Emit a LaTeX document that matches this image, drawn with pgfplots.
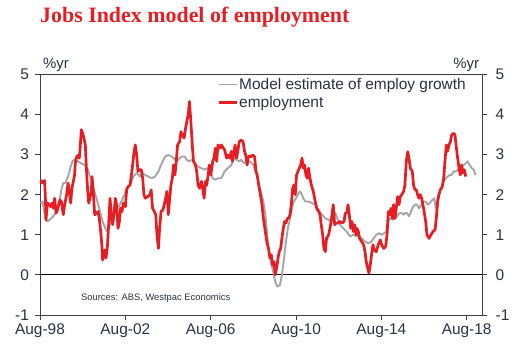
\documentclass[border=0pt]{standalone}
\usepackage{pgfplots}
\pgfplotsset{compat=1.18}
\usepackage{pgfplotstable}
\usepackage{fontspec}
\setmainfont{Liberation Sans}
\newfontfamily\titlefont{Liberation Serif}
\definecolor{wred}{RGB}{230,30,35}
\definecolor{wgrey}{RGB}{165,165,165}
\definecolor{txt}{RGB}{40,50,65}
\definecolor{axc}{RGB}{64,64,64}

\pgfplotstableread{
m v
0.4 2.37
1.1 2.29
1.9 2.33
2.6 2.35
3.0 2.00
3.4 1.37
4.2 1.79
5.3 1.75
6.0 1.70
6.8 1.79
7.6 1.66
8.3 1.91
9.1 1.54
9.8 1.62
10.6 1.75
11.3 1.87
12.1 1.83
13.2 1.50
14.0 1.75
15.1 2.00
15.9 2.29
16.6 2.08
17.4 1.79
18.1 2.16
18.9 2.33
19.6 2.49
20.0 2.78
20.8 2.95
21.5 2.98
22.3 2.91
23.0 3.32
23.4 3.62
24.2 3.53
24.9 3.41
25.7 3.24
26.1 2.83
26.8 2.24
27.6 1.79
28.3 1.91
29.1 2.08
29.5 2.45
30.2 2.08
31.0 1.50
32.1 1.54
32.9 1.58
33.6 1.41
34.4 1.08
35.1 0.71
35.5 0.37
36.6 0.62
37.4 0.42
38.2 0.71
38.9 1.25
39.7 1.91
40.4 1.50
41.2 1.25
41.9 1.50
42.7 1.91
43.4 1.75
44.2 1.16
45.0 1.33
45.7 1.66
46.5 1.58
47.2 1.79
48.4 1.70
49.1 2.12
49.9 2.20
51.0 2.24
51.8 2.49
52.5 2.74
53.3 3.07
54.0 3.24
54.8 2.99
55.5 2.58
56.3 2.62
57.4 2.62
58.2 2.41
58.9 2.00
59.7 1.91
61.0 1.95
62.3 2.00
63.0 2.12
63.8 1.66
64.8 1.58
65.6 1.50
66.3 1.00
67.1 0.66
67.8 1.16
68.6 1.58
69.7 1.62
70.4 1.75
71.2 1.91
71.9 2.08
72.7 1.50
73.4 1.83
74.2 2.24
75.0 2.41
75.7 2.74
76.5 2.49
77.2 2.83
78.0 3.24
79.1 3.32
79.9 3.57
80.6 3.49
81.7 3.41
82.5 3.66
83.2 3.82
84.0 3.99
84.7 4.32
85.5 3.82
86.3 3.24
87.0 2.83
88.1 2.74
88.8 2.58
89.6 2.24
90.4 2.16
91.5 2.33
92.2 2.16
93.0 1.91
93.8 2.33
94.5 2.24
95.3 2.49
96.0 2.74
96.8 2.49
97.9 2.83
98.6 2.91
99.4 3.16
100.1 2.83
100.9 3.24
102.0 3.16
102.8 3.24
103.9 3.16
104.6 3.12
105.8 2.91
106.5 2.99
107.6 2.91
108.4 3.08
109.1 2.83
109.9 3.08
110.6 3.24
111.4 2.91
112.1 3.08
112.9 3.32
114.0 3.36
115.1 3.32
115.9 3.08
116.6 2.99
117.4 2.74
118.1 2.95
119.7 2.95
120.5 2.99
121.6 2.95
122.4 2.58
123.1 2.49
123.9 2.24
124.6 2.08
125.8 1.75
126.6 1.41
127.7 1.08
128.5 0.83
129.5 0.66
130.3 0.42
131.1 0.50
131.8 0.25
132.6 0.33
133.3 0.00
134.1 0.17
134.9 0.42
135.6 0.58
136.4 0.66
137.1 0.91
137.9 1.16
138.6 1.33
139.4 1.29
140.2 1.41
140.9 1.41
141.7 1.50
142.4 1.75
143.2 2.16
143.9 2.24
144.7 2.00
145.4 2.49
146.2 2.58
147.0 2.66
147.7 2.74
148.5 2.91
149.2 2.66
150.0 2.74
150.7 2.49
151.5 2.41
152.2 2.66
153.0 2.41
153.8 2.24
154.9 2.08
156.0 1.83
156.8 1.66
157.9 1.58
158.7 1.50
159.4 1.25
160.2 1.00
160.9 0.66
161.7 0.58
162.4 0.91
163.6 1.00
164.7 1.25
165.5 1.50
166.2 1.75
167.0 1.25
167.8 1.29
168.9 1.29
170.0 1.33
171.2 1.29
172.3 1.33
173.0 1.54
173.8 1.54
174.6 1.75
175.3 1.50
176.1 1.16
176.8 1.33
177.6 1.08
178.3 1.25
179.1 1.00
179.6 1.16
180.4 1.08
181.1 0.91
182.3 0.83
183.4 0.75
184.2 0.58
184.9 0.33
185.7 0.17
186.4 0.04
187.2 0.25
187.9 0.50
188.7 0.75
189.4 0.62
190.6 0.58
191.7 0.75
192.9 0.87
193.6 0.75
194.8 0.66
195.9 0.71
196.7 1.00
197.4 1.58
198.2 1.50
198.9 1.66
199.7 1.41
200.4 1.75
201.2 1.41
201.9 1.66
202.7 1.95
203.5 1.75
204.2 1.95
205.0 2.00
206.1 2.08
206.8 2.24
207.6 2.83
208.4 3.07
209.1 2.91
209.9 2.66
211.0 2.58
211.7 2.24
212.5 2.12
213.3 2.12
214.0 2.00
214.8 1.91
215.5 2.00
216.3 1.91
217.4 1.66
218.6 1.33
219.3 1.00
220.5 0.91
221.6 1.00
222.7 1.08
223.9 1.12
224.6 1.41
225.4 1.83
226.1 2.00
226.9 2.12
228.0 2.20
228.8 2.41
229.5 2.83
230.3 3.24
231.0 3.08
231.8 3.24
232.6 3.32
233.3 3.49
234.4 3.53
235.2 3.49
236.0 3.16
236.7 2.91
237.5 2.66
238.2 2.49
239.0 2.74
239.7 2.54
240.5 2.62
241.3 2.45
}\redtab

\pgfplotstableread{
m v
0.4 1.79
1.5 1.83
3.0 1.41
4.2 1.33
6.4 1.41
8.3 1.50
9.8 1.58
11.0 1.83
12.1 2.12
13.2 2.29
14.4 2.29
15.1 2.37
16.2 2.49
17.4 2.70
18.5 2.84
19.6 2.87
21.5 2.83
23.4 2.78
25.3 2.74
27.2 2.62
28.7 2.41
30.2 2.16
31.4 2.00
32.5 1.83
34.0 1.58
35.5 1.33
37.0 1.16
38.2 1.08
39.3 1.21
40.4 1.37
42.3 1.54
44.2 1.66
46.1 1.83
48.0 2.00
49.1 2.16
51.0 2.24
52.9 2.45
54.8 2.54
56.7 2.45
57.8 2.54
59.7 2.49
61.4 2.45
63.3 2.41
65.2 2.45
67.1 2.58
69.0 2.78
70.9 2.95
72.7 2.99
74.6 2.95
76.5 2.87
77.6 2.83
79.1 2.91
80.6 2.95
82.1 2.95
83.2 2.87
84.4 2.83
86.3 2.87
87.8 2.78
89.6 2.70
91.5 2.66
93.4 2.62
94.5 2.66
96.4 2.58
97.9 2.41
99.4 2.37
100.9 2.41
102.8 2.41
104.6 2.58
106.5 2.66
108.4 2.74
109.9 2.91
111.4 2.87
112.9 2.83
114.0 2.87
115.9 2.78
117.8 2.83
119.0 2.83
120.9 2.74
122.8 2.49
124.6 2.16
126.6 1.83
127.7 1.50
128.8 1.00
129.5 0.66
130.7 0.33
132.2 0.08
133.3 -0.17
134.5 -0.29
136.0 -0.25
137.1 0.00
138.3 0.42
139.4 0.83
140.5 1.16
141.7 1.41
142.8 1.66
143.9 1.83
145.1 1.91
146.2 2.00
147.3 2.08
148.1 2.04
149.2 1.91
150.4 1.83
152.2 1.83
154.1 1.79
156.0 1.75
157.9 1.62
159.8 1.50
161.7 1.41
163.6 1.37
165.5 1.33
167.4 1.54
168.5 1.41
170.0 1.25
171.9 1.16
173.8 1.08
175.7 0.96
177.6 1.00
179.5 0.96
180.0 1.00
182.3 0.91
184.2 0.83
186.0 0.79
187.9 0.83
189.0 0.91
190.6 1.00
192.1 1.04
193.6 1.00
195.1 1.04
196.3 1.08
197.4 1.33
198.6 1.41
200.1 1.37
201.2 1.41
202.3 1.46
203.8 1.54
205.0 1.54
206.1 1.50
206.8 1.54
208.0 1.54
209.1 1.46
210.3 1.58
211.4 1.70
212.5 1.75
213.7 1.75
214.8 1.66
216.3 1.75
217.4 1.83
218.6 1.83
219.7 1.75
220.9 1.79
222.4 1.87
223.5 1.91
224.3 1.66
225.4 1.91
226.6 2.08
227.7 2.16
228.8 2.33
229.9 2.41
231.1 2.45
232.2 2.49
233.3 2.49
234.4 2.58
235.6 2.58
236.7 2.62
237.8 2.58
239.0 2.70
240.1 2.74
241.3 2.78
242.4 2.83
243.5 2.74
244.7 2.66
245.8 2.62
246.9 2.49
}\greytab

\begin{document}
\begin{tikzpicture}
\useasboundingbox (-40bp,-44bp) rectangle (487bp,315bp);
\begin{axis}[
  at={(0,0)}, anchor=south west,
  scale only axis, width=442.7bp, height=240.7bp,
  xmin=0, xmax=250.9, ymin=-1, ymax=5,
  xtick={0,48.36,96.72,145.08,193.44,241.8},
  xticklabels={Aug-98,Aug-02,Aug-06,Aug-10,Aug-14,Aug-18},
  ytick={-1,0,1,2,3,4,5},
  xtick pos=lower, ytick pos=left,
  tick align=outside,
  major tick length=4.5bp,
  tick style={axc, line width=0.8bp},
  axis line style={axc, line width=0.8bp},
  ticklabel style={font=\fontsize{15.5}{18}\selectfont, text=txt},
  yticklabel style={xshift=-3bp},
  xticklabel style={yshift=-1bp},
  /pgf/number format/assume math mode=true,
  legend style={draw=none, fill=none, at={(0.401,0.988)}, anchor=north west,
    font=\fontsize{15.5}{18}\selectfont, text=txt, row sep=4bp,
    inner sep=0pt, nodes={inner sep=0.8bp}},
  legend cell align=left,
  legend image code/.code={\draw[#1] (0bp,0bp) -- (18bp,0bp);},
]
\addplot[black, line width=0.9bp, forget plot] coordinates {(0,0) (250.9,0)};
\addplot[wgrey, line width=1.9bp, line join=round] table[x=m, y=v] {\greytab};
\addlegendentry{Model estimate of employ growth}
\addplot[wred, line width=2.7bp, line join=round] table[x=m, y=v] {\redtab};
\addlegendentry{employment}
\node[anchor=base west, font=\fontsize{9.4}{11}\selectfont, text=txt, inner sep=0pt]
  at (rel axis cs:0.0926,0.06) {Sources: ABS, Westpac Economics};
\end{axis}
\begin{axis}[
  at={(0,0)}, anchor=south west,
  scale only axis, width=442.7bp, height=240.7bp,
  xmin=0, xmax=250.9, ymin=-1, ymax=5,
  hide x axis, axis y line*=right,
  ytick={-1,0,1,2,3,4,5},
  tick align=outside,
  major tick length=4.5bp,
  tick style={axc, line width=0.8bp},
  axis line style={axc, line width=0.8bp},
  ticklabel style={font=\fontsize{15.5}{18}\selectfont, text=txt},
  yticklabel style={xshift=5bp},
  /pgf/number format/assume math mode=true,
]
\addplot[draw=none] coordinates {(0,0)};
\end{axis}
\node[anchor=base west, font=\fontsize{22}{26}\selectfont\titlefont\bfseries, text=wred, inner sep=0pt] at (0bp,292.1bp) {Jobs Index model of employment};
\node[anchor=base west, font=\fontsize{15}{18}\selectfont, text=txt, inner sep=0pt] at (3bp,246bp) {\%yr};
\node[anchor=base east, font=\fontsize{15}{18}\selectfont, text=txt, inner sep=0pt] at (439.3bp,246bp) {\%yr};
\end{tikzpicture}
\end{document}
